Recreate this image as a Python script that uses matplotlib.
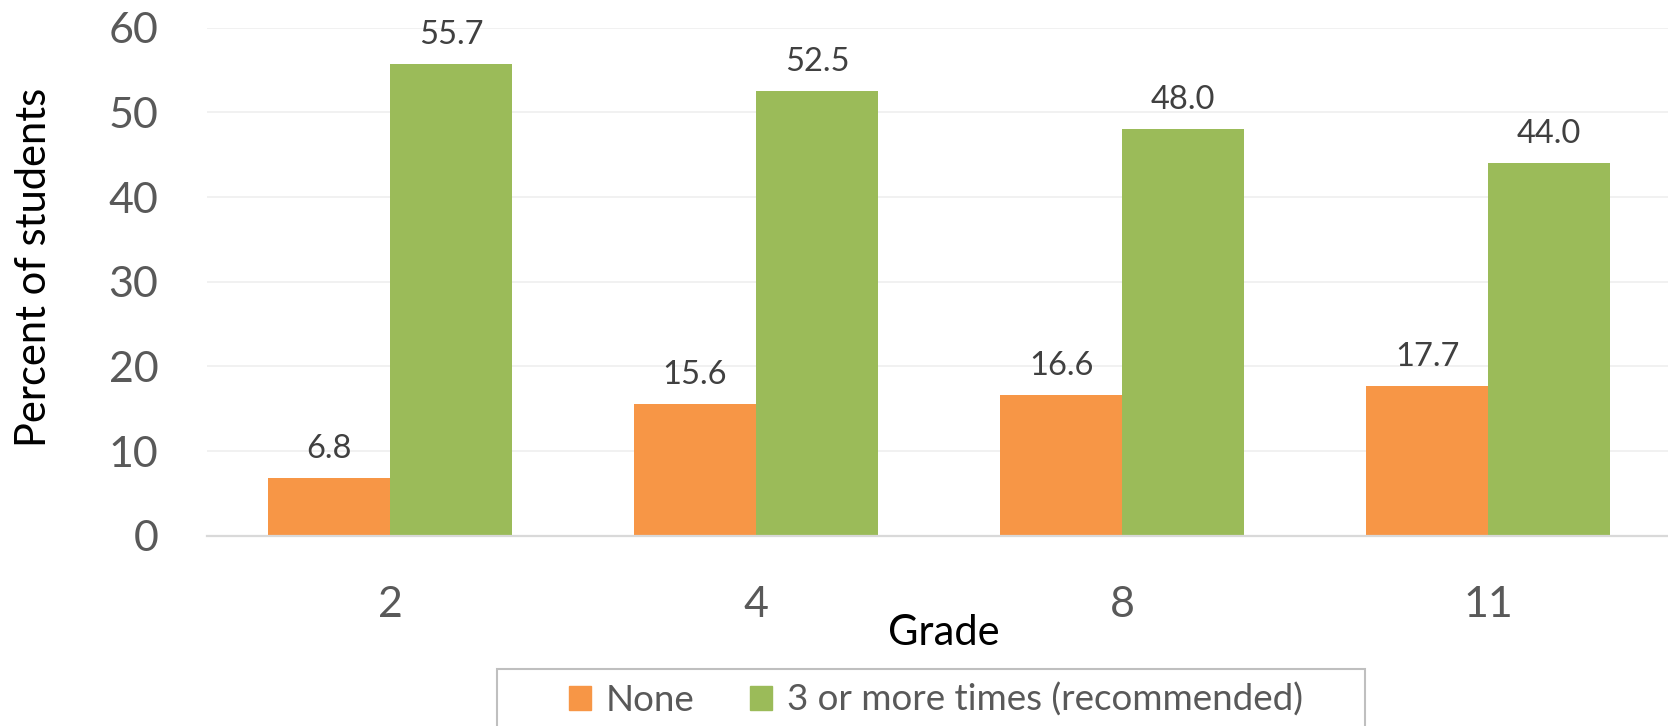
import numpy as np
import matplotlib
matplotlib.use("Agg")
import matplotlib.pyplot as plt
from matplotlib.patches import Patch, Rectangle

plt.rcParams['font.family'] = ['Lato', 'DejaVu Sans']

# Data
grades = ["2", "4", "8", "11"]
series_names = ["None", "3 or more times (recommended)"]
none_pct = [6.8, 15.6, 16.6, 17.7]
recommended_pct = [55.7, 52.5, 48.0, 44.0]
y_ticks = [0, 10, 20, 30, 40, 50, 60]

ORANGE = "#F79646"
GREEN = "#9BBB59"
TICK_COLOR = "#595959"
LABEL_COLOR = "#404040"

W, H = 1668, 726
fig = plt.figure(figsize=(W / 100, H / 100), dpi=100)

ax_left, ax_right = 207, 1671
ax_top, ax_bottom = 27.7, 535.7
ax = fig.add_axes([ax_left / W, 1 - ax_bottom / H,
                   (ax_right - ax_left) / W, (ax_bottom - ax_top) / H])

x = np.arange(len(grades))
w = 1 / 3
bars_none = ax.bar(x - w / 2, none_pct, w, color=ORANGE, zorder=2)
bars_rec = ax.bar(x + w / 2, recommended_pct, w, color=GREEN, zorder=2)

# value labels above each bar
for bars, vals in ((bars_none, none_pct), (bars_rec, recommended_pct)):
    for b, v in zip(bars, vals):
        ax.annotate(f"{v:.1f}", (b.get_x() + b.get_width() / 2, v),
                    xytext=(0, 14.4), textcoords="offset points",
                    ha="center", va="baseline", fontsize=23.5, color=LABEL_COLOR)

ax.set_xlim(-0.5, 3.5)
ax.set_ylim(0, 60)
ax.set_yticks(y_ticks)
ax.set_xticks(x, grades)
ax.tick_params(axis="y", length=0, pad=35, labelsize=31, labelcolor=TICK_COLOR)
ax.tick_params(axis="x", length=0, pad=36, labelsize=31, labelcolor=TICK_COLOR)

ax.yaxis.grid(True, color="#EFEFEF", lw=1.2, zorder=0)
ax.set_axisbelow(True)
for s in ("top", "right", "left"):
    ax.spines[s].set_visible(False)
ax.spines["bottom"].set_color("#D9D9D9")
ax.spines["bottom"].set_linewidth(1.6)

# axis titles
fig.text(944 / W, 1 - 645 / H, "Grade", ha="center", va="baseline",
         fontsize=30, color="black")
fig.text(34 / W, 1 - 267 / H, "Percent of students", rotation=90,
         ha="center", va="center", fontsize=30, color="black")

# legend with a frame running off the bottom edge
handles = [Patch(color=ORANGE, label=series_names[0]),
           Patch(color=GREEN, label=series_names[1])]
fig.legend(handles=handles, loc="center", bbox_to_anchor=(936 / W, 1 - 700 / H),
           ncol=2, frameon=False, fontsize=26.5, handlelength=0.6,
           handleheight=0.6, handletextpad=0.4, columnspacing=1.5,
           labelcolor=TICK_COLOR, borderpad=0)
fig.add_artist(Rectangle((497 / W, -0.1), (1365 - 497) / W, 0.1 + 1 - 669 / H,
                         transform=fig.transFigure, fill=False,
                         edgecolor="#BFBFBF", lw=1.5))

fig.savefig("out.png", dpi=100)
